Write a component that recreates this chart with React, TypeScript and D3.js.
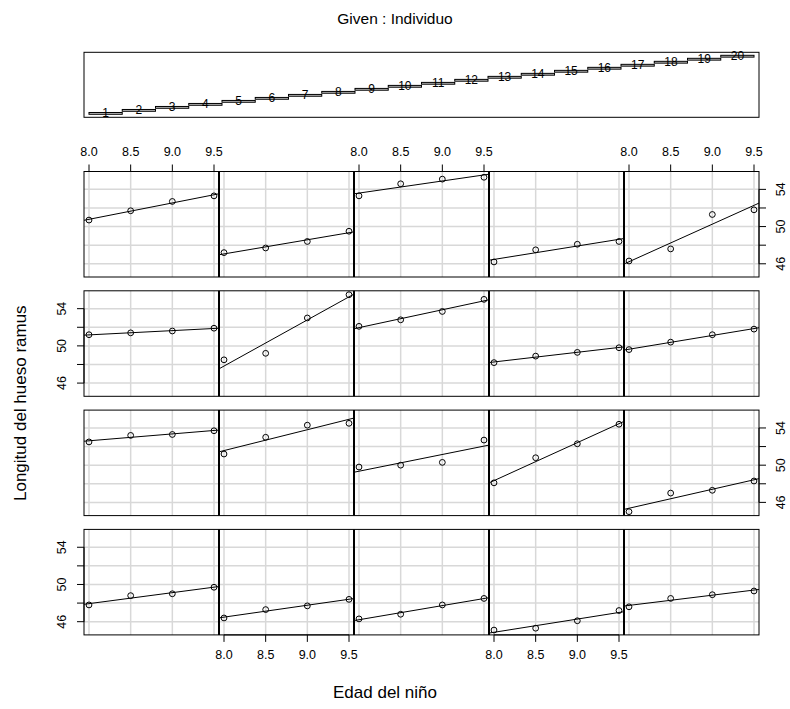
import React from "react";
import * as d3 from "d3";

// Ramus bone length (mm) for 20 boys measured at four ages
const ages = [8, 8.5, 9, 9.5];
const individuos = ["1", "2", "3", "4", "5", "6", "7", "8", "9", "10", "11", "12", "13", "14", "15", "16", "17", "18", "19", "20"];
const ramus8 = [47.8, 46.4, 46.3, 45.1, 47.6, 52.5, 51.2, 49.8, 48.1, 45.0, 51.2, 48.5, 52.1, 48.2, 49.6, 50.7, 47.2, 53.3, 46.2, 46.3];
const ramus85 = [48.8, 47.3, 46.8, 45.3, 48.5, 53.2, 53.0, 50.0, 50.8, 47.0, 51.4, 49.2, 52.8, 48.9, 50.4, 51.7, 47.7, 54.6, 47.5, 47.6];
const ramus9 = [49.0, 47.7, 47.8, 46.1, 48.9, 53.3, 54.3, 50.3, 52.3, 47.3, 51.6, 53.0, 53.7, 49.3, 51.2, 52.7, 48.4, 55.1, 48.1, 51.3];
const ramus95 = [49.7, 48.4, 48.5, 47.2, 49.3, 53.7, 54.5, 52.7, 54.4, 48.3, 51.9, 55.5, 55.0, 49.8, 51.8, 53.3, 49.5, 55.3, 48.4, 51.8];

const xTicks = [8, 8.5, 9, 9.5];
const yTicks = [46, 48, 50, 52, 54];
const yTickLabels = ["46", "", "50", "", "54"];

const W = 790;
const H = 709;
const FONT = "'Liberation Sans', Arial, Helvetica, sans-serif";

// panel grid geometry
const NCOL = 5;
const NROW = 4;
const LEFT = 84;
const PW = 135;
const TOP = 171.5;
const PH = 105.5;
const ROWSTEP = 119.3;

// given panel geometry
const G_LEFT = 84;
const G_RIGHT = 759;
const G_TOP = 52.3;
const G_BOTTOM = 117.3;

const series = [ramus8, ramus85, ramus9, ramus95];

function fit(xs: number[], ys: number[]) {
  const mx = d3.mean(xs) as number;
  const my = d3.mean(ys) as number;
  let sxy = 0;
  let sxx = 0;
  xs.forEach((x, i) => {
    sxy += (x - mx) * (ys[i] - my);
    sxx += (x - mx) * (x - mx);
  });
  const b = sxy / sxx;
  return { a: my - b * mx, b };
}

export default function App() {
  const allY = series.flat();
  const yExt = d3.extent(allY) as [number, number];
  const yPad = (yExt[1] - yExt[0]) * 0.04;
  const xExt = d3.extent(ages) as [number, number];
  const xPad = (xExt[1] - xExt[0]) * 0.04;
  const xDomain: [number, number] = [xExt[0] - xPad, xExt[1] + xPad];
  const yDomain: [number, number] = [yExt[0] - yPad, yExt[1] + yPad];

  const n = individuos.length;
  const gx = d3.scaleLinear().domain([0.35, n + 0.65]).range([G_LEFT, G_RIGHT]);
  const gy = d3.scaleLinear().domain([0.5 - 0.8, n + 0.5 + 0.8]).range([G_BOTTOM, G_TOP]);

  const panels = individuos.map((lab, i) => {
    const col = i % NCOL;
    const rowFromBottom = Math.floor(i / NCOL);
    const row = NROW - 1 - rowFromBottom;
    const x0 = LEFT + col * PW;
    const y0 = TOP + row * ROWSTEP;
    const x = d3.scaleLinear().domain(xDomain).range([x0, x0 + PW]);
    const y = d3.scaleLinear().domain(yDomain).range([y0 + PH, y0]);
    const ys = series.map((s) => s[i]);
    const { a, b } = fit(ages, ys);
    return { lab, i, col, row, x0, y0, x, y, ys, a, b };
  });

  const gridColor = "#d8d8d8";

  return (
    <svg width={W} height={H} style={{ display: "block", position: "absolute", left: 0, top: 0, background: "#fff" }} fontFamily={FONT}>
      <rect x={0} y={0} width={W} height={H} fill="#fff" />
      <defs>
        {panels.map((p) => (
          <clipPath id={`clip${p.i}`} key={p.i}>
            <rect x={p.x0} y={p.y0} width={PW} height={PH} />
          </clipPath>
        ))}
      </defs>

      {/* title */}
      <text x={W / 2} y={18} textAnchor="middle" dominantBaseline="central" fontSize={15.5} fill="#000">
        Given : Individuo
      </text>

      {/* given panel: one bar per level */}
      <rect x={G_LEFT} y={G_TOP} width={G_RIGHT - G_LEFT} height={G_BOTTOM - G_TOP} fill="none" stroke="#000" strokeWidth={1} />
      {individuos.map((lab, i) => {
        const lvl = i + 1;
        return (
          <g key={lab}>
            <rect
              x={gx(lvl - 0.5)}
              y={gy(lvl + 0.3)}
              width={gx(lvl + 0.5) - gx(lvl - 0.5)}
              height={gy(lvl - 0.3) - gy(lvl + 0.3)}
              fill="#cccccc"
              stroke="#000"
              strokeWidth={1}
            />
            <text x={gx(lvl)} y={gy(lvl)} textAnchor="middle" dominantBaseline="central" fontSize={12} fill="#000">
              {lab}
            </text>
          </g>
        );
      })}

      {/* panels */}
      {panels.map((p) => (
        <g key={p.i}>
          {xTicks.map((t) => (
            <line key={`gx${t}`} x1={p.x(t)} x2={p.x(t)} y1={p.y0} y2={p.y0 + PH} stroke={gridColor} strokeWidth={1.5} />
          ))}
          {yTicks.map((t) => (
            <line key={`gy${t}`} x1={p.x0} x2={p.x0 + PW} y1={p.y(t)} y2={p.y(t)} stroke={gridColor} strokeWidth={1.5} />
          ))}
          <g clipPath={`url(#clip${p.i})`}>
            <line
              x1={p.x(xDomain[0])}
              y1={p.y(p.a + p.b * xDomain[0])}
              x2={p.x(xDomain[1])}
              y2={p.y(p.a + p.b * xDomain[1])}
              stroke="#000"
              strokeWidth={1}
            />
          </g>
          {ages.map((age, k) => (
            <circle key={k} cx={p.x(age)} cy={p.y(p.ys[k])} r={2.9} fill="none" stroke="#000" strokeWidth={1} />
          ))}
        </g>
      ))}

      {/* panel frames */}
      {d3.range(NROW).map((r) => {
        const y0 = TOP + r * ROWSTEP;
        return (
          <g key={`frame${r}`}>
            <rect x={LEFT} y={y0} width={PW * NCOL} height={PH} fill="none" stroke="#000" strokeWidth={1} />
            {d3.range(1, NCOL).map((c) => (
              <line key={c} x1={LEFT + c * PW} x2={LEFT + c * PW} y1={y0} y2={y0 + PH} stroke="#000" strokeWidth={2} />
            ))}
          </g>
        );
      })}

      {/* x axes: top of first row on odd columns, bottom of last row on even columns */}
      {panels
        .filter((p) => (p.row === 0 && p.col % 2 === 0) || (p.row === NROW - 1 && p.col % 2 === 1))
        .map((p) => {
          const top = p.row === 0;
          const yb = top ? p.y0 : p.y0 + PH;
          const dir = top ? -1 : 1;
          return (
            <g key={`xa${p.i}`}>
              <line x1={p.x(xTicks[0])} x2={p.x(xTicks[xTicks.length - 1])} y1={yb} y2={yb} stroke="#000" strokeWidth={1} />
              {xTicks.map((t) => (
                <g key={t}>
                  <line x1={p.x(t)} x2={p.x(t)} y1={yb} y2={yb + dir * 7} stroke="#000" strokeWidth={1} />
                  <text
                    x={p.x(t)}
                    y={yb + dir * 20}
                    textAnchor="middle"
                    dominantBaseline="central"
                    fontSize={12.5}
                    fill="#000"
                  >
                    {t.toFixed(1)}
                  </text>
                </g>
              ))}
            </g>
          );
        })}

      {/* y axes: right side on rows 0 and 2, left side on rows 1 and 3 */}
      {d3.range(NROW).map((r) => {
        const left = r % 2 === 1;
        const y0 = TOP + r * ROWSTEP;
        const y = d3.scaleLinear().domain(yDomain).range([y0 + PH, y0]);
        const xb = left ? LEFT : LEFT + PW * NCOL;
        const dir = left ? -1 : 1;
        return (
          <g key={`ya${r}`}>
            <line x1={xb} x2={xb} y1={y(yTicks[0])} y2={y(yTicks[yTicks.length - 1])} stroke="#000" strokeWidth={1} />
            {yTicks.map((t, k) => (
              <g key={t}>
                <line x1={xb} x2={xb + dir * 7} y1={y(t)} y2={y(t)} stroke="#000" strokeWidth={1} />
                {yTickLabels[k] && (
                  <text
                    transform={`translate(${xb + dir * 22},${y(t)}) rotate(-90)`}
                    textAnchor="middle"
                    dominantBaseline="central"
                    fontSize={12.5}
                    fill="#000"
                  >
                    {yTickLabels[k]}
                  </text>
                )}
              </g>
            ))}
          </g>
        );
      })}

      {/* axis titles */}
      <text x={385} y={692} textAnchor="middle" dominantBaseline="central" fontSize={17} fill="#000">
        Edad del niño
      </text>
      <text
        transform={`translate(20,${TOP + (3 * ROWSTEP + PH) / 2}) rotate(-90)`}
        textAnchor="middle"
        dominantBaseline="central"
        fontSize={17}
        fill="#000"
      >
        Longitud del hueso ramus
      </text>
    </svg>
  );
}
